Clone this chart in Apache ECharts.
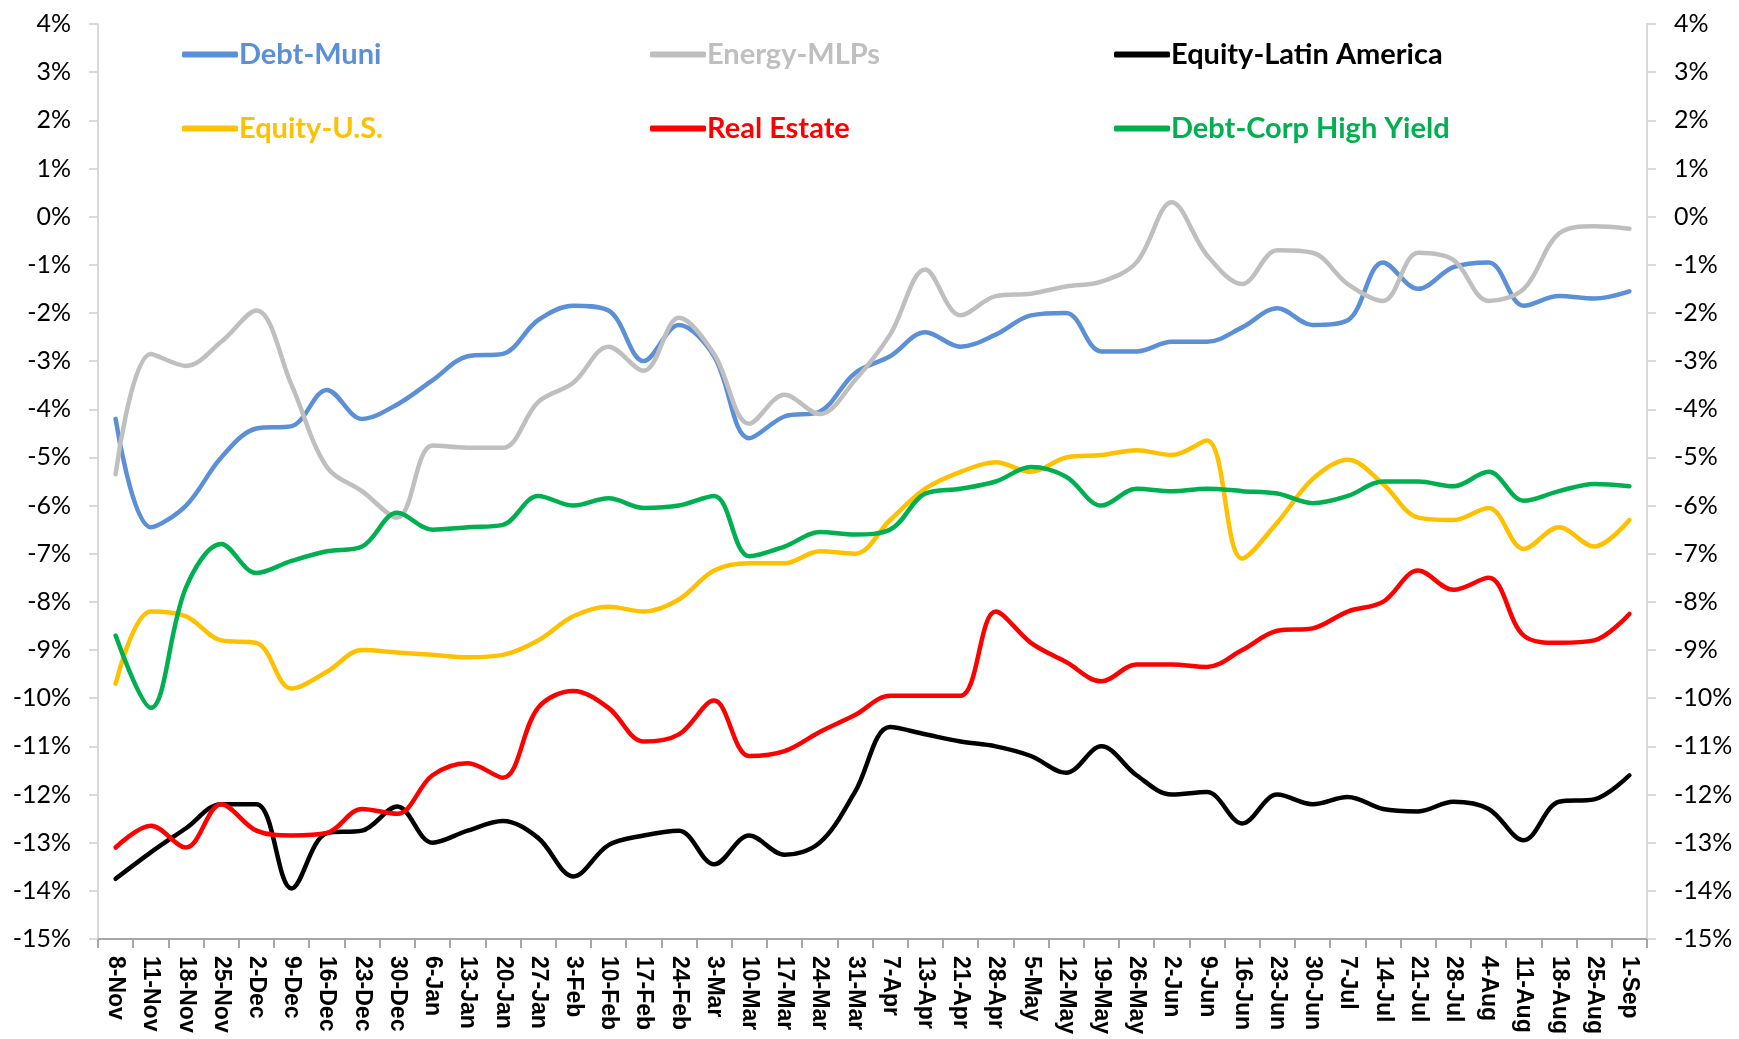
<!DOCTYPE html>
<html lang="en">
<head>
  <meta charset="UTF-8">
  <title>Asset class returns</title>
  <script src="https://cdn.jsdelivr.net/npm/echarts@6/dist/echarts.min.js"></script>
  <style>
    html, body { margin: 0; padding: 0; background: #fff; }
  </style>
</head>
<body>

  <div id="main" style="width: 1739px;height:1039px;"></div>

  <script type="text/javascript">
    // Week labels on the x axis
    const weeks = ['8-Nov', '11-Nov', '18-Nov', '25-Nov', '2-Dec', '9-Dec', '16-Dec', '23-Dec', '30-Dec',
      '6-Jan', '13-Jan', '20-Jan', '27-Jan', '3-Feb', '10-Feb', '17-Feb', '24-Feb', '3-Mar', '10-Mar',
      '17-Mar', '24-Mar', '31-Mar', '7-Apr', '13-Apr', '21-Apr', '28-Apr', '5-May', '12-May', '19-May',
      '26-May', '2-Jun', '9-Jun', '16-Jun', '23-Jun', '30-Jun', '7-Jul', '14-Jul', '21-Jul', '28-Jul',
      '4-Aug', '11-Aug', '18-Aug', '25-Aug', '1-Sep'];

    // Values in percent
    const debtMuni = [-4.2, -6.45, -6.0, -5.0, -4.4, -4.35, -3.6, -4.2, -3.9, -3.4, -2.9, -2.85, -2.15, -1.85,
      -1.95, -3.0, -2.25, -2.9, -4.6, -4.15, -4.05, -3.25, -2.9, -2.4, -2.7, -2.45, -2.05, -2.0, -2.8, -2.8,
      -2.6, -2.6, -2.3, -1.9, -2.25, -2.15, -0.95, -1.5, -1.05, -0.95, -1.85, -1.65, -1.7, -1.55];
    const energyMLPs = [-5.35, -2.85, -3.1, -2.6, -1.95, -3.5, -5.2, -5.7, -6.25, -4.75, -4.8, -4.8, -3.85, -3.45,
      -2.7, -3.2, -2.1, -2.85, -4.3, -3.7, -4.1, -3.4, -2.45, -1.1, -2.05, -1.65, -1.6, -1.45, -1.35, -0.95,
      0.3, -0.8, -1.4, -0.7, -0.75, -1.4, -1.75, -0.75, -0.9, -1.75, -1.5, -0.35, -0.2, -0.25];
    const equityLatAm = [-13.75, -13.2, -12.7, -12.2, -12.2, -13.95, -12.8, -12.75, -12.25, -13.0, -12.75, -12.55,
      -12.9, -13.7, -13.05, -12.85, -12.75, -13.45, -12.85, -13.25, -13.0, -11.95, -10.6, -10.75, -10.9, -11.0,
      -11.2, -11.55, -11.0, -11.6, -12.0, -11.95, -12.6, -12.0, -12.2, -12.05, -12.3, -12.35, -12.15, -12.3,
      -12.95, -12.15, -12.1, -11.6];
    const equityUS = [-9.7, -8.2, -8.3, -8.8, -8.85, -9.8, -9.45, -9.0, -9.05, -9.1, -9.15, -9.1, -8.8, -8.3,
      -8.1, -8.2, -7.95, -7.35, -7.2, -7.2, -6.95, -7.0, -6.3, -5.65, -5.3, -5.1, -5.3, -5.0, -4.95, -4.85,
      -4.95, -4.65, -7.1, -6.35, -5.45, -5.05, -5.55, -6.25, -6.3, -6.05, -6.9, -6.45, -6.85, -6.3];
    const realEstate = [-13.1, -12.65, -13.1, -12.2, -12.75, -12.85, -12.8, -12.3, -12.4, -11.6, -11.35, -11.65,
      -10.2, -9.85, -10.2, -10.9, -10.75, -10.05, -11.2, -11.1, -10.7, -10.35, -9.95, -9.95, -9.95, -8.2,
      -8.85, -9.25, -9.65, -9.3, -9.3, -9.35, -9.0, -8.6, -8.55, -8.2, -8.0, -7.35, -7.75, -7.5, -8.7, -8.85,
      -8.8, -8.25];
    const debtHighYield = [-8.7, -10.2, -7.7, -6.8, -7.4, -7.15, -6.95, -6.85, -6.15, -6.5, -6.45, -6.4, -5.8,
      -6.0, -5.85, -6.05, -6.0, -5.8, -7.05, -6.85, -6.55, -6.6, -6.5, -5.75, -5.65, -5.5, -5.2, -5.4, -6.0,
      -5.65, -5.7, -5.65, -5.7, -5.75, -5.95, -5.8, -5.5, -5.5, -5.6, -5.3, -5.9, -5.7, -5.55, -5.6];

    const names = ['Debt-Muni', 'Energy-MLPs', 'Equity-Latin America', 'Equity-U.S.', 'Real Estate', 'Debt-Corp High Yield'];
    const colors = ['#5b8fd6', '#bfbfbf', '#000000', '#ffc000', '#ff0000', '#00b050'];
    const values = [debtMuni, energyMLPs, equityLatAm, equityUS, realEstate, debtHighYield];

    // legend spots: 3 columns x 2 rows
    const legendLeft = [177, 645, 1109];
    const legendTop = [35, 109];

    let myChart = echarts.init(document.getElementById('main'));

    const yAxisBase = {
      type: 'value',
      min: -15,
      max: 4,
      interval: 1,
      splitLine: { show: false },
      axisLine: { show: true, lineStyle: { color: '#d9d9d9', width: 2 } },
      axisTick: { show: true, length: 9, lineStyle: { color: '#d9d9d9', width: 2 } },
      axisLabel: {
        formatter: '{value}%',
        color: '#000',
        fontFamily: 'Lato',
        fontSize: 25,
        margin: 27
      }
    };

    let options = {
      animation: false,
      color: colors,
      grid: { left: 98, right: 92, top: 24, bottom: 100, containLabel: false },
      legend: names.map((n, i) => ({
        left: legendLeft[i % 3],
        top: legendTop[Math.floor(i / 3)],
        icon: 'roundRect',
        itemWidth: 56,
        itemHeight: 6,
        selectedMode: false,
        textStyle: { fontFamily: 'Lato', fontWeight: 'bold', fontSize: 29, padding: [0, 0, 0, -4] },
        data: [{ name: n, textStyle: { color: colors[i] } }]
      })),
      xAxis: {
        type: 'category',
        data: weeks,
        boundaryGap: true,
        axisLine: { onZero: false, lineStyle: { color: '#a6a6a6', width: 2 } },
        axisTick: { show: true, length: 9, lineStyle: { color: '#a6a6a6', width: 2 } },
        axisLabel: {
          interval: 0,
          rotate: -90,
          color: '#000',
          fontFamily: 'Liberation Sans',
          fontWeight: 'bold',
          fontSize: 23,
          margin: 17
        }
      },
      yAxis: [
        Object.assign({}, yAxisBase, { position: 'left' }),
        Object.assign({}, yAxisBase, { position: 'right' })
      ],
      series: names.map((n, i) => ({
        name: n,
        type: 'line',
        data: values[i],
        smooth: 0.35,
        symbol: 'none',
        lineStyle: { width: 4.5, color: colors[i], cap: 'round' },
        itemStyle: { color: colors[i] }
      }))
    };

    myChart.setOption(options);
  </script>
</body>
</html>
